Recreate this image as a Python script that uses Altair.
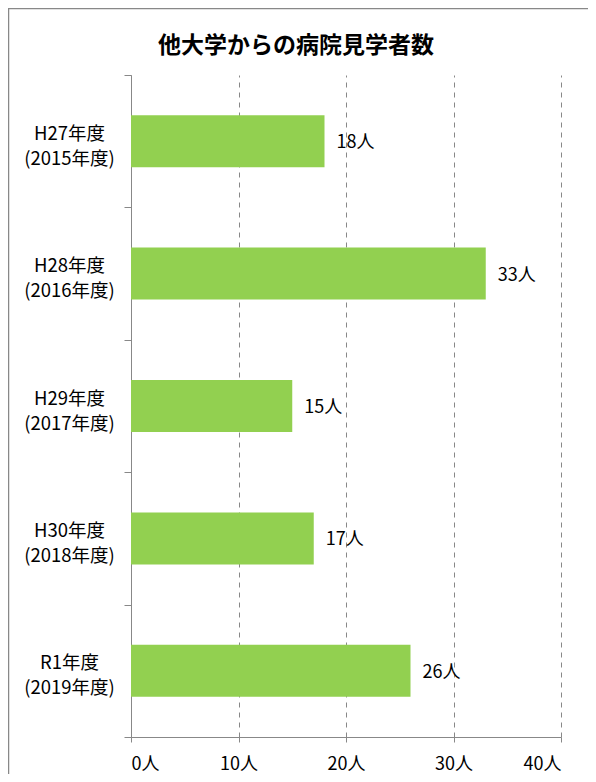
import altair as alt
import pandas as pd

eras = ["H27年度", "H28年度", "H29年度", "H30年度", "R1年度"]
years = ["(2015年度)", "(2016年度)", "(2017年度)", "(2018年度)", "(2019年度)"]
counts = [18, 33, 15, 17, 26]
x_ticks = [0, 10, 20, 30, 40]

cats = [f"{e}|{y}" for e, y in zip(eras, years)]
df = pd.DataFrame({"cat": cats, "count": counts, "label": [f"{c}人" for c in counts]})

FONT = "Noto Sans CJK JP"
GRAY = "#888888"
W, H = 430, 662

y_enc = alt.Y(
    "cat:N", sort=cats, title=None,
    scale=alt.Scale(paddingInner=0, paddingOuter=0),
    axis=alt.Axis(
        labelExpr="split(datum.label, '|')", tickBand="extent", tickSize=7,
        tickColor=GRAY, domainColor=GRAY, labelAlign="center", labelBaseline="middle",
        labelPadding=55, labelFontSize=18.5, labelLineHeight=25, labelOffset=-8,
        labelColor="#000000", labelFont=FONT, labelLimit=200,
    ),
)
x_enc = alt.X(
    "count:Q", title=None, scale=alt.Scale(domain=[0, 40], nice=False),
    axis=alt.Axis(
        values=x_ticks, labelExpr="datum.value + '人'", grid=True, gridDash=[5, 5],
        gridColor=GRAY, tickSize=5, tickColor=GRAY, domainColor=GRAY,
        labelFontSize=18, labelPadding=13, labelFont=FONT, labelColor="#000000",
    ),
)

bars = alt.Chart(df).mark_bar(color="#92D050", size=52).encode(y=y_enc, x=x_enc)
texts = alt.Chart(df).mark_text(
    align="left", baseline="middle", dx=12, dy=2, fontSize=18, font=FONT, color="#000000"
).encode(y=alt.Y("cat:N", sort=cats), x="count:Q", text="label:N")

border = alt.Chart(pd.DataFrame({"a": [0]})).mark_rect(
    fill="transparent", stroke=GRAY, strokeWidth=1.5
).encode(
    x=alt.value(-122.5), y=alt.value(-66.5), x2=alt.value(W + 300), y2=alt.value(H + 300)
)

chart = alt.layer(border, bars, texts).properties(
    width=W, height=H,
    title=alt.TitleParams(
        "他大学からの病院見学者数", fontSize=23, font=FONT, fontWeight="bold",
        anchor="middle", frame="group", dx=-50, offset=-50, color="#000000",
    ),
    autosize=alt.AutoSizeParams(type="none"),
    padding={"left": 123, "top": 67, "right": 27, "bottom": 37},
).configure_view(stroke="transparent")

chart.save("out.html", embed_options={"renderer": "svg", "actions": False})
